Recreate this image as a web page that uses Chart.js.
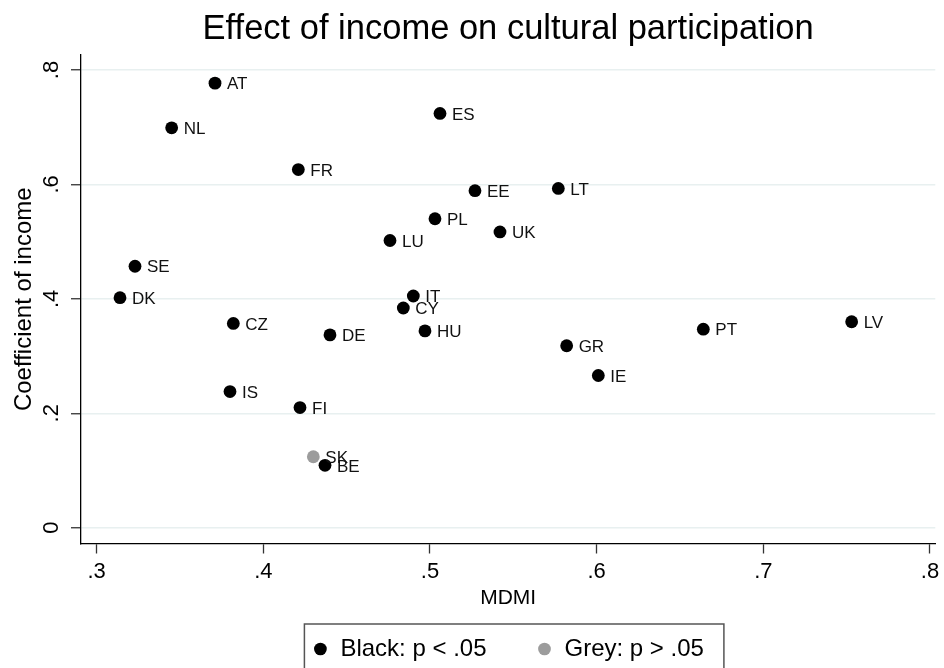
<!DOCTYPE html>
<html>
<head>
<meta charset="utf-8">
<title>Effect of income on cultural participation</title>
<script src="https://cdn.jsdelivr.net/npm/chart.js@4.4.1/dist/chart.umd.min.js"></script>
<style>
  html, body { margin: 0; padding: 0; background: #fff; overflow: hidden; }
  canvas { display: block; }
</style>
</head>
<body>
<canvas id="incomeChart" width="944" height="668"></canvas>
<script>
// significant countries (black dots)
const sigCountries = ['AT', 'NL', 'FR', 'ES', 'EE', 'PL', 'UK', 'LU', 'SE', 'DK', 'IT', 'CY',
  'CZ', 'DE', 'HU', 'IS', 'FI', 'BE', 'LT', 'GR', 'IE', 'PT', 'LV'];
const sigMdmi = [0.371, 0.345, 0.421, 0.506, 0.527, 0.503, 0.542, 0.476, 0.323, 0.314, 0.490, 0.484,
  0.382, 0.440, 0.497, 0.380, 0.422, 0.437, 0.577, 0.582, 0.601, 0.664, 0.753];
const sigCoef = [0.777, 0.699, 0.626, 0.724, 0.589, 0.540, 0.517, 0.502, 0.457, 0.402, 0.405, 0.384,
  0.357, 0.337, 0.344, 0.238, 0.210, 0.109, 0.593, 0.318, 0.266, 0.347, 0.360];

// not significant (grey dot)
const nsCountries = ['SK'];
const nsMdmi = [0.430];
const nsCoef = [0.124];

const xTicks = [0.3, 0.4, 0.5, 0.6, 0.7, 0.8];
const yTicks = [0, 0.2, 0.4, 0.6, 0.8];

const FONT = '"Liberation Sans", Arial, Helvetica, sans-serif';
Chart.defaults.font.family = FONT;
Chart.defaults.color = '#000';

// Stata style tick text: ".4" instead of "0.4"
const fmt = (v) => (v === 0 ? '0' : Number(v).toFixed(1).replace(/^0/, ''));

const toPoints = (xs, ys) => xs.map((x, i) => ({ x: x, y: ys[i] }));

// country codes written at 3 o'clock of each marker
const pointLabels = {
  id: 'pointLabels',
  afterDatasetsDraw(chart) {
    const ctx = chart.ctx;
    ctx.save();
    ctx.font = '17px ' + FONT;
    ctx.fillStyle = '#111';
    ctx.textAlign = 'left';
    ctx.textBaseline = 'middle';
    chart.data.datasets.forEach((ds, i) => {
      const meta = chart.getDatasetMeta(i);
      meta.data.forEach((pt, j) => {
        ctx.fillText(ds.names[j], pt.x + 12, pt.y + 1.5);
      });
    });
    ctx.restore();
  }
};

// frame round the legend, like the Stata legend box
const legendFrame = {
  id: 'legendFrame',
  afterDraw(chart) {
    const boxes = chart.legend && chart.legend.legendHitBoxes;
    if (!boxes || !boxes.length) return;
    const first = boxes[0];
    const last = boxes[boxes.length - 1];
    const ctx = chart.ctx;
    ctx.save();
    ctx.strokeStyle = '#555';
    ctx.lineWidth = 1.5;
    const left = first.left - 8;
    const right = last.left + last.width + 20;
    const top = first.top - 13;
    ctx.strokeRect(left, top, right - left, chart.height + 10 - top);
    ctx.restore();
  }
};

const ctx = document.getElementById('incomeChart').getContext('2d');

new Chart(ctx, {
  type: 'scatter',
  data: {
    datasets: [
      {
        label: 'Black: p < .05',
        data: toPoints(sigMdmi, sigCoef),
        names: sigCountries,
        backgroundColor: '#000',
        borderColor: '#000',
        borderWidth: 0,
        pointRadius: 6.4,
        pointHoverRadius: 6.4,
        pointStyle: 'circle'
      },
      {
        label: 'Grey: p > .05',
        data: toPoints(nsMdmi, nsCoef),
        names: nsCountries,
        backgroundColor: '#9c9c9c',
        borderColor: '#9c9c9c',
        borderWidth: 0,
        pointRadius: 6.4,
        pointHoverRadius: 6.4,
        pointStyle: 'circle'
      }
    ]
  },
  options: {
    responsive: false,
    animation: false,
    events: [],
    layout: { padding: { top: 0, left: 0, right: 0, bottom: -3 } },
    scales: {
      x: {
        type: 'linear',
        min: 0.2906,
        max: 0.8032,
        afterBuildTicks: (scale) => { scale.ticks = xTicks.map((v) => ({ value: v })); },
        afterFit: (scale) => { scale.height = 43.5; },
        ticks: {
          callback: (v) => fmt(v),
          font: { size: 22 },
          color: '#000',
          padding: 4.8,
          maxRotation: 0
        },
        grid: {
          drawOnChartArea: false,
          drawTicks: true,
          tickLength: 10,
          tickColor: '#333',
          tickWidth: 1.3
        },
        border: { display: true, color: '#000', width: 1.3 },
        title: {
          display: true,
          text: 'MDMI',
          font: { size: 21 },
          color: '#000',
          padding: { top: 0, bottom: -23.9 }
        }
      },
      y: {
        type: 'linear',
        min: -0.0276,
        max: 0.8262,
        afterBuildTicks: (scale) => { scale.ticks = yTicks.map((v) => ({ value: v })); },
        afterFit: (scale) => { scale.width = 81; },
        ticks: {
          callback: (v) => fmt(v),
          font: { size: 22 },
          color: '#000',
          padding: 10,
          minRotation: 90,
          maxRotation: 90,
          crossAlign: 'center'
        },
        grid: {
          color: '#e8f0f0',
          lineWidth: 1.5,
          drawTicks: true,
          tickLength: 10,
          tickColor: '#333',
          tickWidth: 1.3
        },
        border: { display: true, color: '#000', width: 1.3 },
        title: {
          display: true,
          text: 'Coefficient of income',
          font: { size: 24 },
          color: '#000',
          padding: { top: 9.6, bottom: 0 }
        }
      }
    },
    plugins: {
      title: {
        display: true,
        text: 'Effect of income on cultural participation',
        font: { size: 34.5, weight: 'normal' },
        color: '#000',
        fullSize: false,
        padding: { top: 9, bottom: 4.6 }
      },
      legend: {
        display: true,
        position: 'bottom',
        fullSize: false,
        labels: {
          usePointStyle: true,
          boxWidth: 16,
          boxHeight: 9,
          padding: 50,
          font: { size: 24 },
          color: '#000'
        }
      },
      tooltip: { enabled: false }
    }
  },
  plugins: [pointLabels, legendFrame]
});
</script>
</body>
</html>
